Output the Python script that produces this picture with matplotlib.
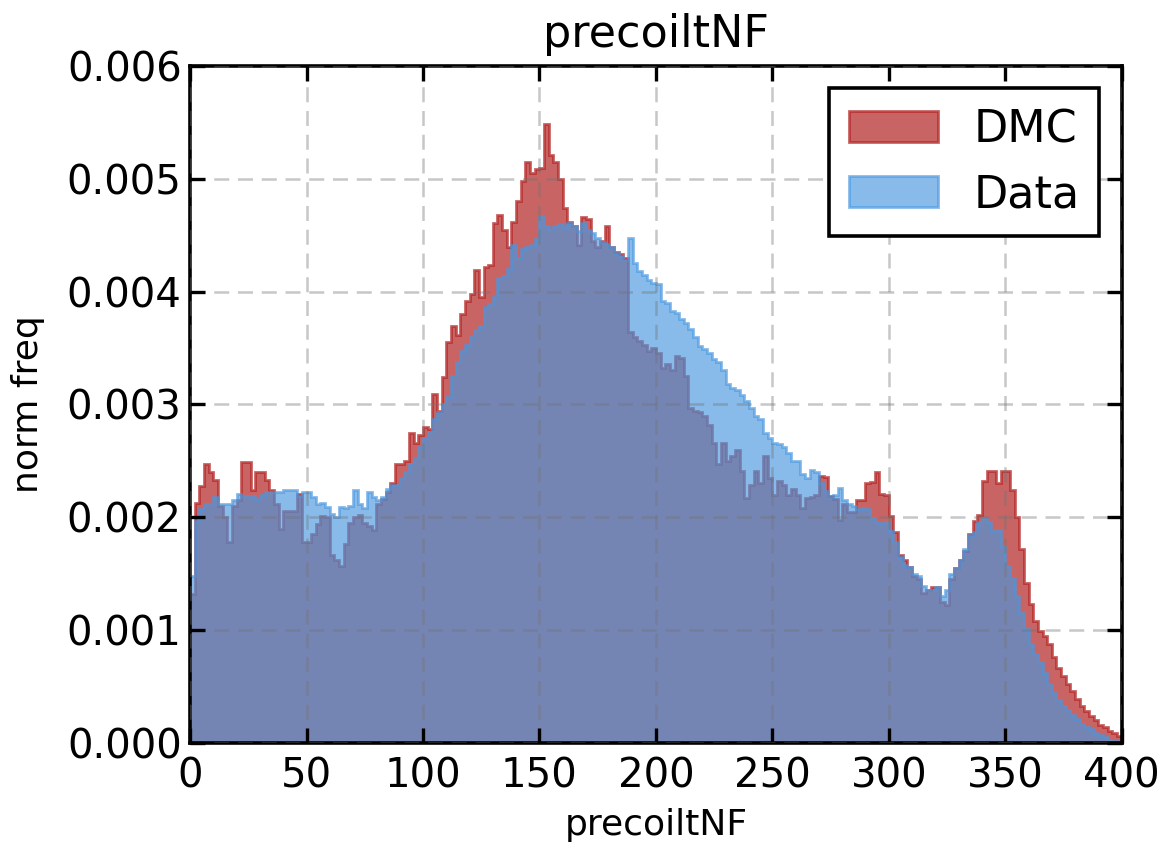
import numpy as np
import matplotlib
matplotlib.use("Agg")
import matplotlib.pyplot as plt
from matplotlib.ticker import FormatStrFormatter

# Bin edges of the histogram (precoiltNF, width 2)
bin_edges = np.arange(0, 402, 2)

# Normalised frequencies (units of 1e-3)
dmc_freq_e3 = [
    1.32, 2.13, 2.28, 2.47, 2.40, 2.33, 2.10, 2.00, 1.78, 2.10,
    2.15, 2.49, 2.49, 2.24, 2.40, 2.40, 2.33, 2.24, 2.12, 1.90,
    2.06, 2.06, 2.06, 2.21, 1.78, 1.78, 1.85, 1.94, 2.01, 2.00,
    1.67, 1.62, 1.57, 1.76, 1.95, 2.00, 2.02, 1.95, 1.92, 1.89,
    2.12, 2.16, 2.22, 2.30, 2.47, 2.47, 2.50, 2.75, 2.66, 2.73,
    2.80, 2.78, 3.09, 2.94, 3.24, 3.55, 3.70, 3.62, 3.80, 3.92,
    3.98, 4.19, 3.95, 4.22, 4.24, 4.61, 4.68, 4.55, 4.40, 4.62,
    4.80, 4.98, 5.15, 5.05, 5.09, 5.10, 5.49, 5.21, 5.15, 5.00,
    4.74, 4.62, 4.58, 4.41, 4.66, 4.64, 4.45, 4.40, 4.45, 4.58,
    4.40, 4.35, 4.33, 4.30, 3.64, 3.60, 3.56, 3.53, 3.47, 3.50,
    3.46, 3.32, 3.36, 3.31, 3.43, 3.41, 3.25, 2.97, 2.94, 2.93,
    2.90, 2.82, 2.66, 2.47, 2.66, 2.50, 2.54, 2.60, 2.41, 2.17,
    2.29, 2.41, 2.30, 2.54, 2.35, 2.20, 2.32, 2.29, 2.20, 2.25,
    2.20, 2.08, 2.17, 2.18, 2.20, 2.37, 2.36, 2.19, 2.16, 1.98,
    2.12, 2.05, 2.05, 2.15, 2.15, 2.30, 2.31, 2.40, 2.21, 2.20,
    2.01, 1.87, 1.67, 1.62, 1.56, 1.48, 1.45, 1.33, 1.36, 1.38,
    1.38, 1.25, 1.22, 1.45, 1.55, 1.62, 1.70, 1.85, 1.97, 2.02,
    2.32, 2.41, 2.41, 2.30, 2.41, 2.41, 2.24, 2.00, 1.72, 1.42,
    1.23, 1.08, 0.99, 0.95, 0.88, 0.76, 0.66, 0.59, 0.52, 0.46,
    0.39, 0.33, 0.28, 0.24, 0.20, 0.16, 0.14, 0.11, 0.09, 0.06,
]

data_freq_e3 = [
    1.48, 1.97, 2.07, 2.12, 2.12, 2.18, 2.12, 2.12, 2.12, 2.15,
    2.21, 2.19, 2.19, 2.19, 2.16, 2.20, 2.22, 2.22, 2.22, 2.22,
    2.24, 2.24, 2.24, 2.19, 2.22, 2.22, 2.18, 2.12, 2.13, 2.09,
    2.03, 2.00, 2.09, 2.08, 2.10, 2.24, 2.12, 2.08, 2.22, 2.18,
    2.15, 2.18, 2.25, 2.29, 2.29, 2.35, 2.40, 2.47, 2.53, 2.62,
    2.70, 2.76, 2.87, 2.93, 3.00, 3.07, 3.25, 3.38, 3.47, 3.53,
    3.60, 3.66, 3.70, 3.86, 3.89, 3.95, 4.12, 4.14, 4.20, 4.41,
    4.30, 4.38, 4.40, 4.41, 4.47, 4.67, 4.58, 4.55, 4.58, 4.60,
    4.57, 4.61, 4.58, 4.54, 4.61, 4.55, 4.52, 4.48, 4.44, 4.42,
    4.40, 4.34, 4.32, 4.28, 4.48, 4.25, 4.18, 4.15, 4.10, 4.08,
    4.07, 3.92, 3.90, 3.83, 3.81, 3.76, 3.72, 3.67, 3.60, 3.52,
    3.49, 3.46, 3.40, 3.38, 3.31, 3.18, 3.15, 3.13, 3.08, 3.03,
    2.97, 2.90, 2.87, 2.75, 2.70, 2.66, 2.65, 2.62, 2.57, 2.50,
    2.50, 2.38, 2.35, 2.42, 2.40, 2.30, 2.23, 2.18, 2.20, 2.26,
    2.15, 2.12, 2.10, 2.07, 2.08, 2.07, 1.99, 1.96, 1.95, 1.96,
    1.88, 1.78, 1.65, 1.58, 1.56, 1.50, 1.48, 1.39, 1.36, 1.36,
    1.38, 1.30, 1.36, 1.50, 1.55, 1.62, 1.72, 1.84, 1.87, 1.96,
    1.99, 1.96, 1.88, 1.89, 1.75, 1.57, 1.46, 1.30, 1.15, 1.01,
    0.88, 0.79, 0.72, 0.62, 0.52, 0.44, 0.38, 0.33, 0.29, 0.25,
    0.21, 0.17, 0.14, 0.12, 0.09, 0.07, 0.05, 0.03, 0.02, 0.02,
]

series_labels = ["DMC", "Data"]
x_ticks = [0, 50, 100, 150, 200, 250, 300, 350, 400]
y_ticks = [0.000, 0.001, 0.002, 0.003, 0.004, 0.005, 0.006]

dmc_freq = np.array(dmc_freq_e3) * 1e-3
data_freq = np.array(data_freq_e3) * 1e-3
bin_centers = 0.5 * (bin_edges[:-1] + bin_edges[1:])

plt.rcParams["font.family"] = ["DejaVu Sans"]

fig = plt.figure(figsize=(5.83, 4.26), dpi=200)
ax = fig.add_axes([0.163, 0.128, 0.799, 0.7945])

red = (178 / 255, 34 / 255, 34 / 255)
blue = (72 / 255, 151 / 255, 223 / 255)

ax.hist(bin_centers, bins=bin_edges, weights=dmc_freq, histtype="stepfilled",
        facecolor=red, edgecolor=red, alpha=0.7, linewidth=1.0, label=series_labels[0])
ax.hist(bin_centers, bins=bin_edges, weights=data_freq, histtype="stepfilled",
        facecolor=blue, edgecolor=blue, alpha=0.65, linewidth=1.0, label=series_labels[1])

ax.set_xlim(0, 400)
ax.set_ylim(0, 0.006)
ax.set_xticks(x_ticks)
ax.set_yticks(y_ticks)
ax.yaxis.set_major_formatter(FormatStrFormatter("%.3f"))

ax.set_axisbelow(False)
ax.grid(True, color="0.45", alpha=0.4, linestyle=(0, (6, 3.5)), linewidth=0.9)

ax.tick_params(axis="both", which="major", direction="in", length=5.5, width=1.2,
               top=True, right=True, labelsize=14.5)
ax.tick_params(axis="x", pad=5)
ax.tick_params(axis="y", pad=3)
for sp in ax.spines.values():
    sp.set_linewidth(1.3)

ax.set_title("precoiltNF", fontsize=16, pad=7)
ax.set_xlabel("precoiltNF", fontsize=13, labelpad=4)
ax.set_ylabel("norm freq", fontsize=13, labelpad=8)

leg = ax.legend(loc="upper right", fontsize=16, fancybox=False, framealpha=1.0,
                edgecolor="black", borderpad=0.45, handlelength=2.0, handletextpad=0.8,
                labelspacing=0.5, borderaxespad=0.5)
leg.get_frame().set_linewidth(1.3)

fig.savefig("out.png", dpi=200)
